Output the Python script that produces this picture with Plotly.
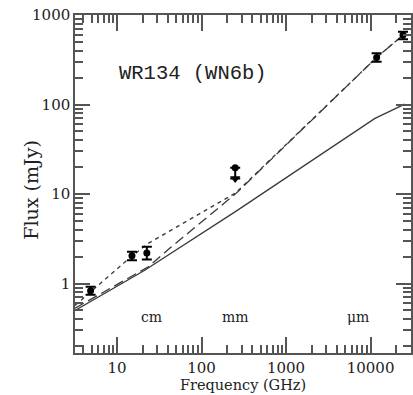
import plotly.graph_objects as go

# ---- data ----
obs_freq = [4.86, 15.0, 22.5, 11800.0, 24200.0]          # GHz
obs_flux = [0.83, 2.04, 2.20, 336.0, 597.0]               # mJy
obs_err_plus = [0.09, 0.22, 0.37, 37.0, 53.0]
obs_err_minus = [0.08, 0.22, 0.35, 35.0, 62.0]

ul_freq = [250.0]          # upper limit
ul_flux = [19.6]
ul_arrow_tip = [14.9]      # arrow head position

solid_freq = [3.18, 21.0, 254.0, 625.0, 4520.0, 11270.0, 25400.0]
solid_flux = [0.50, 1.40, 6.4, 11.3, 40.0, 70.0, 101.0]

longdash_freq = [3.18, 23.2, 41.6, 177.0, 254.0, 11800.0, 25700.0]
longdash_flux = [0.53, 1.53, 2.46, 7.5, 10.1, 336.0, 625.0]

shortdash_freq = [3.18, 12.4, 23.2, 154.0, 222.0, 254.0, 11800.0, 25700.0]
shortdash_flux = [0.57, 1.74, 2.80, 7.85, 9.7, 10.3, 336.0, 625.0]

x_tick_vals = [10, 100, 1000, 10000]
x_tick_text = ["10", "100", "1000", "10000"]
y_tick_vals = [1, 10, 100, 1000]
y_tick_text = ["1", "10", "100", "1000"]

band_labels = ["cm", "mm", "\u03bcm"]
band_x = [0.189, 0.479, 0.882]   # paper coordinates

title_text = "WR134 (WN6b)"
x_title = "Frequency (GHz)"
y_title = "Flux (mJy)"

# ---- figure ----
line_col = "#3a3a3a"
axis_col = "#555555"
font_fam = "DejaVu Serif"
txt_col = "#222222"

fig = go.Figure()
fig.add_trace(go.Scatter(x=solid_freq, y=solid_flux, mode="lines",
                         line=dict(color=line_col, width=1.3), showlegend=False))
fig.add_trace(go.Scatter(x=longdash_freq, y=longdash_flux, mode="lines",
                         line=dict(color=line_col, width=1.3, dash="10px,5px"), showlegend=False))
fig.add_trace(go.Scatter(x=shortdash_freq, y=shortdash_flux, mode="lines",
                         line=dict(color=line_col, width=1.3, dash="4px,4px"), showlegend=False))

fig.add_trace(go.Scatter(x=obs_freq, y=obs_flux, mode="markers",
                         marker=dict(color="black", size=7, symbol="circle"),
                         error_y=dict(type="data", symmetric=False, array=obs_err_plus,
                                      arrayminus=obs_err_minus, color="black",
                                      thickness=2, width=5),
                         showlegend=False))

ul_minus = [f - t for f, t in zip(ul_flux, ul_arrow_tip)]
fig.add_trace(go.Scatter(x=ul_freq, y=ul_flux, mode="markers",
                         marker=dict(color="black", size=7, symbol="circle"),
                         error_y=dict(type="data", symmetric=False, array=[0] * len(ul_flux),
                                      arrayminus=ul_minus, color="black",
                                      thickness=2, width=5),
                         showlegend=False))
fig.add_trace(go.Scatter(x=ul_freq, y=ul_arrow_tip, mode="markers",
                         marker=dict(color="black", size=9, symbol="triangle-down"),
                         showlegend=False))


def minor_vals(lo, hi):
    vals = []
    for d in range(lo, hi):
        for k in range(2, 10):
            vals.append(k * 10 ** d)
    return vals


xr = [0.502, 0.502 + 338 / 85]
yr = [-0.776, 3.0]

common = dict(showline=True, linecolor=axis_col, linewidth=1.5, mirror="allticks",
              ticks="inside", tickcolor=axis_col, tickwidth=1.5,
              showgrid=False, zeroline=False,
              tickfont=dict(family=font_fam, size=15, color=txt_col))

fig.update_xaxes(type="log", range=xr, tickmode="array", tickvals=x_tick_vals,
                 ticktext=x_tick_text, ticklen=16,
                 minor=dict(tickmode="array", tickvals=minor_vals(0, 5), ticks="inside",
                            ticklen=8, tickcolor=axis_col, tickwidth=1.5),
                 title=dict(text=x_title, standoff=0,
                            font=dict(family=font_fam, size=14.5, color=txt_col)),
                 **common)
fig.update_yaxes(type="log", range=yr, tickmode="array", tickvals=y_tick_vals,
                 ticktext=y_tick_text, ticklen=15,
                 minor=dict(tickmode="array", tickvals=minor_vals(-1, 3), ticks="inside",
                            ticklen=8, tickcolor=axis_col, tickwidth=1.5),
                 **common)

annotations = [
    dict(text=title_text, x=0.35, y=0.868, xref="paper", yref="paper",
         showarrow=False, font=dict(family="Liberation Mono", size=20.5, color=txt_col)),
    dict(text=y_title, x=-0.168, y=0.482, xref="paper", yref="paper", textangle=-90,
         showarrow=False, font=dict(family=font_fam, size=19, color=txt_col)),
]
for lab, bx in zip(band_labels, band_x):
    annotations.append(dict(text=lab, x=bx, y=0.077, xref="paper", yref="paper",
                            showarrow=False, font=dict(family=font_fam, size=14, color=txt_col)))

fig.update_layout(width=413, height=395, margin=dict(l=75, r=0, t=15, b=42),
                  plot_bgcolor="white", paper_bgcolor="white",
                  annotations=annotations)

fig.write_html("out.html")
